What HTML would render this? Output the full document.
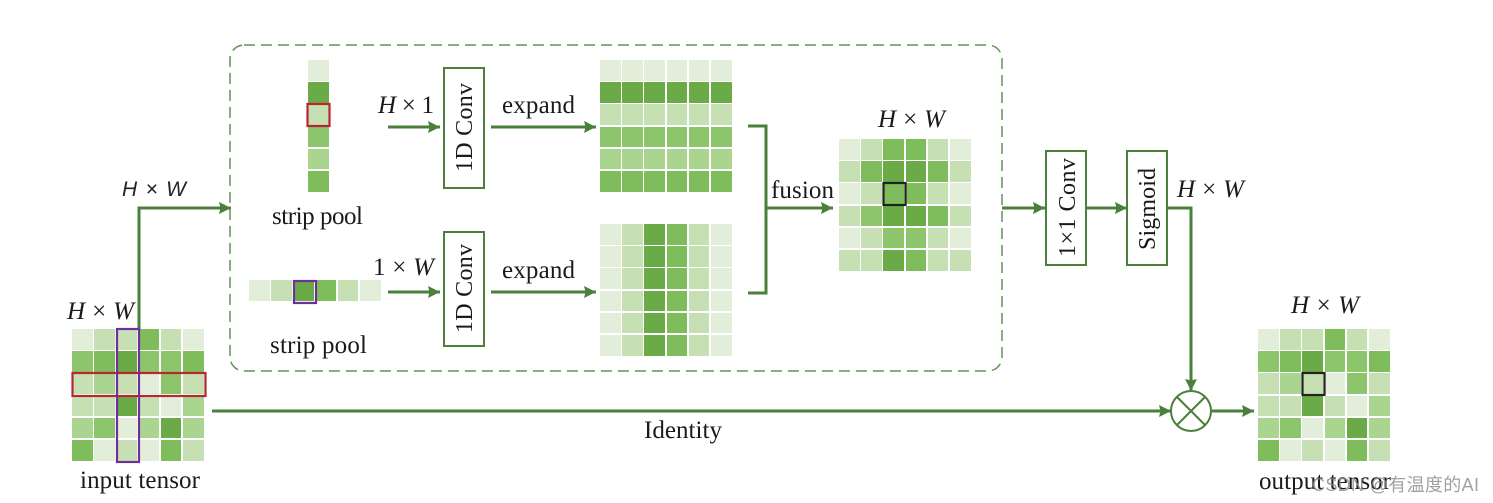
<!DOCTYPE html>
<html><head><meta charset="utf-8">
<style>
html,body{margin:0;padding:0;background:#fff}
#p{position:relative;width:1493px;height:503px;overflow:hidden;background:#fff}
.g{position:absolute;display:grid;grid-template-columns:repeat(6,20.7px);grid-auto-rows:20.7px;gap:1.5px}
.g i{display:block}
.a{background:#e2eeda}.b{background:#c6e0b4}.c{background:#aad591}.e{background:#8cc56c}.f{background:#7fbd5c}.g2{background:#6aab47}
svg{position:absolute;left:0;top:0}
text{font-family:"Liberation Serif",serif;font-size:25px;fill:#1a1a1a}
.m{font-style:italic}
.r{font-size:24px}
</style></head><body><div id="p">
<div class="g" style="left:72px;top:329px">
<i class="a"></i><i class="b"></i><i class="b"></i><i class="f"></i><i class="b"></i><i class="a"></i>
<i class="e"></i><i class="f"></i><i class="g2"></i><i class="e"></i><i class="e"></i><i class="f"></i>
<i class="b"></i><i class="c"></i><i class="b"></i><i class="a"></i><i class="e"></i><i class="b"></i>
<i class="b"></i><i class="b"></i><i class="g2"></i><i class="b"></i><i class="a"></i><i class="c"></i>
<i class="c"></i><i class="e"></i><i class="a"></i><i class="c"></i><i class="g2"></i><i class="c"></i>
<i class="f"></i><i class="a"></i><i class="b"></i><i class="a"></i><i class="f"></i><i class="b"></i>
</div>
<div class="g" style="left:1258px;top:329px">
<i class="a"></i><i class="b"></i><i class="b"></i><i class="f"></i><i class="b"></i><i class="a"></i>
<i class="e"></i><i class="f"></i><i class="g2"></i><i class="e"></i><i class="e"></i><i class="f"></i>
<i class="b"></i><i class="c"></i><i class="b"></i><i class="a"></i><i class="e"></i><i class="b"></i>
<i class="b"></i><i class="b"></i><i class="g2"></i><i class="b"></i><i class="a"></i><i class="c"></i>
<i class="c"></i><i class="e"></i><i class="a"></i><i class="c"></i><i class="g2"></i><i class="c"></i>
<i class="f"></i><i class="a"></i><i class="b"></i><i class="a"></i><i class="f"></i><i class="b"></i>
</div>
<div class="g" style="left:600px;top:60px">
<i class="a"></i><i class="a"></i><i class="a"></i><i class="a"></i><i class="a"></i><i class="a"></i>
<i class="g2"></i><i class="g2"></i><i class="g2"></i><i class="g2"></i><i class="g2"></i><i class="g2"></i>
<i class="b"></i><i class="b"></i><i class="b"></i><i class="b"></i><i class="b"></i><i class="b"></i>
<i class="e"></i><i class="e"></i><i class="e"></i><i class="e"></i><i class="e"></i><i class="e"></i>
<i class="c"></i><i class="c"></i><i class="c"></i><i class="c"></i><i class="c"></i><i class="c"></i>
<i class="f"></i><i class="f"></i><i class="f"></i><i class="f"></i><i class="f"></i><i class="f"></i>
</div>
<div class="g" style="left:600px;top:224px">
<i class="a"></i><i class="b"></i><i class="g2"></i><i class="f"></i><i class="b"></i><i class="a"></i>
<i class="a"></i><i class="b"></i><i class="g2"></i><i class="f"></i><i class="b"></i><i class="a"></i>
<i class="a"></i><i class="b"></i><i class="g2"></i><i class="f"></i><i class="b"></i><i class="a"></i>
<i class="a"></i><i class="b"></i><i class="g2"></i><i class="f"></i><i class="b"></i><i class="a"></i>
<i class="a"></i><i class="b"></i><i class="g2"></i><i class="f"></i><i class="b"></i><i class="a"></i>
<i class="a"></i><i class="b"></i><i class="g2"></i><i class="f"></i><i class="b"></i><i class="a"></i>
</div>
<div class="g" style="left:839px;top:139px">
<i class="a"></i><i class="b"></i><i class="f"></i><i class="f"></i><i class="b"></i><i class="a"></i>
<i class="b"></i><i class="f"></i><i class="g2"></i><i class="g2"></i><i class="f"></i><i class="b"></i>
<i class="a"></i><i class="b"></i><i class="f"></i><i class="f"></i><i class="b"></i><i class="a"></i>
<i class="b"></i><i class="e"></i><i class="g2"></i><i class="g2"></i><i class="f"></i><i class="b"></i>
<i class="a"></i><i class="b"></i><i class="e"></i><i class="e"></i><i class="b"></i><i class="a"></i>
<i class="b"></i><i class="b"></i><i class="g2"></i><i class="f"></i><i class="b"></i><i class="b"></i>
</div>
<div class="g" style="left:308px;top:60px;grid-template-columns:21px">
<i class="a"></i><i class="g2"></i><i class="b"></i><i class="e"></i><i class="c"></i><i class="f"></i>
</div>
<div class="g" style="left:249px;top:280px">
<i class="a"></i><i class="b"></i><i class="g2"></i><i class="f"></i><i class="b"></i><i class="a"></i>
</div>
<svg width="1493" height="503" viewBox="0 0 1493 503">
<defs><marker id="ar" markerUnits="userSpaceOnUse" markerWidth="13" markerHeight="14" refX="12" refY="7" orient="auto"><path d="M0,1 L12,7 L0,13 L1.500,7 Z" fill="#4a7f3c"/></marker></defs>
<rect x="230" y="45" width="772" height="326" rx="14" fill="none" stroke="#5f9455" stroke-width="1.500" stroke-dasharray="11 6"/>
<g fill="none" stroke="#4a7f3c" stroke-width="3">
<path d="M139 329V208H231" marker-end="url(#ar)"/>
<path d="M388 127H440" marker-end="url(#ar)"/>
<path d="M491 127H596" marker-end="url(#ar)"/>
<path d="M388 292H440" marker-end="url(#ar)"/>
<path d="M491 292H596" marker-end="url(#ar)"/>
<path d="M748 126H766V293H748"/>
<path d="M766 208H833" marker-end="url(#ar)"/>
<path d="M1002 208H1045" marker-end="url(#ar)"/>
<path d="M1086 208H1127" marker-end="url(#ar)"/>
<path d="M1167 208H1191V391" marker-end="url(#ar)"/>
<path d="M212 411H1171" marker-end="url(#ar)"/>
<path d="M1212 411H1254" marker-end="url(#ar)"/>
</g>
<g fill="#fff" stroke="#4a7f3c" stroke-width="2">
<rect x="444" y="68" width="40" height="120"/>
<rect x="444" y="232" width="40" height="114"/>
<rect x="1046" y="151" width="40" height="114"/>
<rect x="1127" y="151" width="40" height="114"/>
<circle cx="1191" cy="411" r="20"/>
</g>
<path d="M1177 397L1205 425M1205 397L1177 425" stroke="#4a7f3c" stroke-width="2"/>
<g fill="none">
<rect x="72.500" y="373" width="133" height="23" stroke="#b8262e" stroke-width="2.200"/>
<rect x="117" y="329" width="22" height="133" stroke="#6f2f9a" stroke-width="2.200"/>
<rect x="307.500" y="104" width="22" height="22" stroke="#b8262e" stroke-width="2.200"/>
<rect x="294" y="281" width="22" height="22" stroke="#6f2f9a" stroke-width="2.200"/>
<rect x="883.500" y="183" width="22" height="22" stroke="#222" stroke-width="2.200"/>
<rect x="1302.500" y="373" width="22" height="22" stroke="#222" stroke-width="2.200"/>
</g>
<text x="122" y="196" style="font-family:'Liberation Sans',sans-serif;font-style:italic;font-size:21px;fill:#222" textLength="64">H × W</text>
<text x="67" y="319" textLength="67"><tspan class="m">H</tspan> × <tspan class="m">W</tspan></text>
<text x="378" y="113" textLength="56"><tspan class="m">H</tspan> × 1</text>
<text x="373" y="275" textLength="61">1 × <tspan class="m">W</tspan></text>
<text x="878" y="127" textLength="67"><tspan class="m">H</tspan> × <tspan class="m">W</tspan></text>
<text x="1177" y="197" textLength="67"><tspan class="m">H</tspan> × <tspan class="m">W</tspan></text>
<text x="1291" y="313" textLength="68"><tspan class="m">H</tspan> × <tspan class="m">W</tspan></text>
<text x="502" y="113" textLength="73">expand</text>
<text x="502" y="278" textLength="73">expand</text>
<text x="771" y="198" textLength="63">fusion</text>
<text x="272" y="224" textLength="91">strip pool</text>
<text x="270" y="353" textLength="97">strip pool</text>
<text x="644" y="438" textLength="78">Identity</text>
<text x="80" y="488" textLength="120">input tensor</text>
<text x="1259" y="489" textLength="132">output tensor</text>
<text class="r" transform="translate(472 172) rotate(-90)" textLength="89">1D Conv</text>
<text class="r" transform="translate(472 333) rotate(-90)" textLength="89">1D Conv</text>
<text class="r" transform="translate(1075 257) rotate(-90)" textLength="99">1×1 Conv</text>
<text class="r" transform="translate(1155 250) rotate(-90)" textLength="82">Sigmoid</text>
<text x="1312" y="491" style="font-family:'Liberation Sans','Noto Sans CJK SC',sans-serif;font-size:18px;fill:#8a8a8a;fill-opacity:.8" textLength="167">CSDN @有温度的AI</text>
</svg>
</div></body></html>
